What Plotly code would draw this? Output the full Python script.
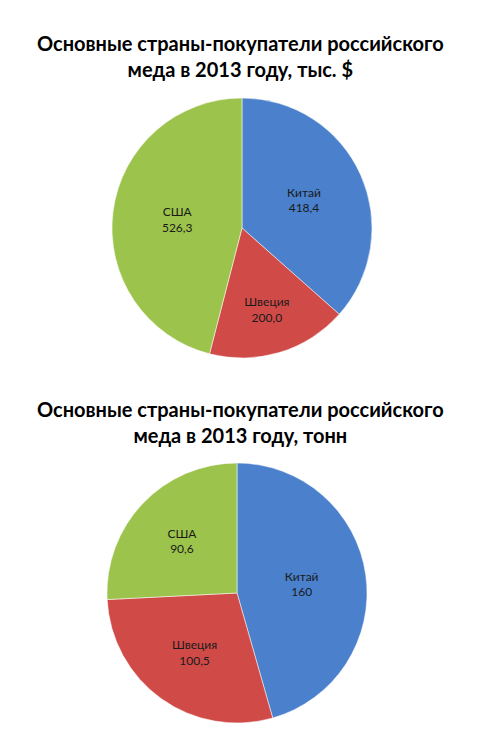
import plotly.graph_objects as go

countries1 = ["Китай", "Швеция", "США"]
values1 = [418.4, 200.0, 526.3]
labels1 = ["418,4", "200,0", "526,3"]

countries2 = ["Китай", "Швеция", "США"]
values2 = [160, 100.5, 90.6]
labels2 = ["160", "100,5", "90,6"]

title1 = "Основные страны-покупатели российского<br>меда в 2013 году, тыс. $"
title2 = "Основные страны-покупатели российского<br>меда в 2013 году, тонн"

colors = ["#4a80cc", "#d04a48", "#9cc44c"]
W, H = 500, 733

def dom(x0, x1, ytop, ybot):
    return dict(x=[x0 / W, x1 / W], y=[1 - ybot / H, 1 - ytop / H])

fig = go.Figure()
for countries, vals, labs, d in [
    (countries1, values1, labels1, dom(104, 364, 90, 350)),
    (countries2, values2, labels2, dom(99, 359, 455, 715)),
]:
    fig.add_trace(go.Pie(
        labels=countries, values=vals,
        text=[f"{c}<br>{l}" for c, l in zip(countries, labs)],
        textinfo="text", textposition="inside", insidetextorientation="horizontal",
        sort=False, direction="clockwise", rotation=0,
        marker=dict(colors=colors, line=dict(color="rgba(255,255,255,0.5)", width=1)),
        textfont=dict(family="Lato, Open Sans, sans-serif", size=12, color="#1a1a1a"),
        domain=d, showlegend=False, hoverinfo="label+value",
    ))

for t, y in [(title1, 48), (title2, 414)]:
    fig.add_annotation(
        text=f"<b>{t}</b>", x=0.465, y=1 - y / H, xref="paper", yref="paper",
        showarrow=False, xanchor="center", yanchor="middle",
        font=dict(family="Lato, Open Sans, sans-serif", size=20, color="#000000"),
        align="center",
    )

fig.update_layout(
    width=W, height=H, margin=dict(l=0, r=0, t=0, b=0),
    paper_bgcolor="white", plot_bgcolor="white",
)
fig.write_html("out.html")
